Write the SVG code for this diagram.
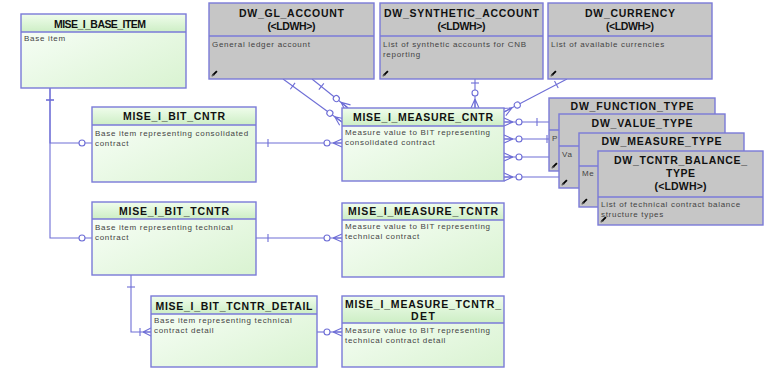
<svg xmlns="http://www.w3.org/2000/svg" xmlns:xlink="http://www.w3.org/1999/xlink" width="769" height="370" viewBox="0 0 769 370">
<style>
  .frame{fill:none;stroke:#7a7ad8;stroke-width:1.4}
  .sep{stroke:#7a7ad8;stroke-width:1.4}
  .mbody{fill:url(#gBody)}
  .mhead{fill:url(#gHead)}
  .dw{fill:#c6c6c6}
  .title{font-family:"Liberation Sans",Arial,sans-serif;font-size:10.5px;font-weight:bold;fill:#111;text-anchor:middle}
  .txt{font-family:"Liberation Sans",Arial,sans-serif;font-size:8px;letter-spacing:0.7px;fill:#444}
  .conn{fill:none;stroke:#6e6ed6;stroke-width:1.1}
  .mk{fill:none;stroke:#6e6ed6;stroke-width:1.1}
  .mkc{fill:#fff;stroke:#6e6ed6;stroke-width:1.1}
</style>
<defs>
  <linearGradient id="gHead" x1="0" y1="0" x2="0" y2="1">
    <stop offset="0" stop-color="#f0fdec"/>
    <stop offset="1" stop-color="#cdeec5"/>
  </linearGradient>
  <linearGradient id="gBody" x1="0" y1="0" x2="1" y2="1">
    <stop offset="0" stop-color="#fafffa"/>
    <stop offset="1" stop-color="#d9f3d1"/>
  </linearGradient>
  <symbol id="pencil" viewBox="0 0 8 8">
    <path d="M1,7 L2,4.5 L6,0.5 L7.5,2 L3.5,6 Z" fill="#000"/>
    <path d="M1,7 L2,4.5 L3.5,6 Z" fill="#fff" stroke="#000" stroke-width="0.6"/>
  </symbol>
  <marker id="mTick" viewBox="0 -6 16 12" refX="0" refY="0" markerWidth="16" markerHeight="12" orient="auto" markerUnits="userSpaceOnUse">
    <path class="mk" d="M12,-4 L12,4"/>
  </marker>
  <marker id="mTick4" viewBox="0 -6 8 12" refX="0" refY="0" markerWidth="8" markerHeight="12" orient="auto" markerUnits="userSpaceOnUse">
    <path class="mk" d="M4,-4 L4,4"/>
  </marker>
  <marker id="mCircle" viewBox="-16 -6 17 12" refX="0" refY="0" markerWidth="17" markerHeight="12" orient="auto" markerUnits="userSpaceOnUse">
    <circle class="mkc" cx="-10" cy="0" r="3"/>
  </marker>
  <marker id="mCrowO" viewBox="-20 -6 21 12" refX="0" refY="0" markerWidth="21" markerHeight="12" orient="auto" markerUnits="userSpaceOnUse">
    <path class="mk" d="M-9,0 L0,-4 M-9,0 L0,0 M-9,0 L0,4"/>
    <circle class="mkc" cx="-15" cy="0" r="3"/>
  </marker>
  <marker id="mCrowBar" viewBox="-16 -6 17 12" refX="0" refY="0" markerWidth="17" markerHeight="12" orient="auto" markerUnits="userSpaceOnUse">
    <path class="mk" d="M-11,-4 L-11,4 M-8,0 L0,-4 M-8,0 L0,0 M-8,0 L0,4"/>
  </marker>
</defs>
<rect x="0" y="0" width="769" height="370" fill="#fff"/>

<g id="connectors">
  <path class="conn" d="M50,88 V143 H92" marker-start="url(#mTick)" marker-end="url(#mCircle)"/>
  <path class="conn" d="M50,88 V238 H92" marker-start="url(#mTick)" marker-end="url(#mCircle)"/>
  <path class="conn" d="M256,143 H342" marker-start="url(#mTick)" marker-end="url(#mCrowO)"/>
  <path class="conn" d="M256,238 H342" marker-start="url(#mTick)" marker-end="url(#mCrowO)"/>
  <path class="conn" d="M131,275 V332 H151" marker-start="url(#mTick)" marker-end="url(#mCrowBar)"/>
  <path class="conn" d="M317,332 H342" marker-end="url(#mCrowO)"/>
  <path class="conn" d="M283,79 L342,122" marker-start="url(#mTick)" marker-end="url(#mCrowO)"/>
  <path class="conn" d="M312,79 L348,108" marker-start="url(#mTick)" marker-end="url(#mCrowO)"/>
  <path class="conn" d="M475,79 V108" marker-start="url(#mTick4)" marker-end="url(#mCrowO)"/>
  <path class="conn" d="M567,79 L504,112" marker-start="url(#mTick)" marker-end="url(#mCrowO)"/>
  <path class="conn" d="M549,122 H504" marker-start="url(#mTick)" marker-end="url(#mCrowO)"/>
  <path class="conn" d="M559,139 H504" marker-start="url(#mTick)" marker-end="url(#mCrowO)"/>
  <path class="conn" d="M579,157 H504" marker-start="url(#mTick)" marker-end="url(#mCrowO)"/>
  <path class="conn" d="M598,177 H504" marker-start="url(#mTick)" marker-end="url(#mCrowO)"/>
</g>

<g id="MISE_I_BASE_ITEM">
  <rect class="mbody" x="21" y="14" width="165" height="74"/>
  <rect class="mhead" x="21" y="14" width="165" height="18"/>
  <line class="sep" x1="21" y1="32" x2="186" y2="32"/>
  <rect class="frame" x="21" y="14" width="165" height="74"/>
  <text class="title" x="100" y="28" textLength="92">MISE_I_BASE_ITEM</text>
  <text class="txt" x="24" y="41">Base item</text>
</g>

<g id="DW_GL_ACCOUNT">
  <rect class="dw" x="209" y="3" width="165" height="76"/>
  <line class="sep" x1="209" y1="36" x2="374" y2="36"/>
  <rect class="frame" x="209" y="3" width="165" height="76"/>
  <text class="title" x="291.5" y="17" textLength="105">DW_GL_ACCOUNT</text>
  <text class="title" x="291.5" y="30" textLength="48">(&lt;LDWH&gt;)</text>
  <text class="txt" x="212" y="47">General ledger account</text>
  <use href="#pencil" x="211" y="70" width="7" height="7"/>
</g>

<g id="DW_SYNTHETIC_ACCOUNT">
  <rect class="dw" x="380" y="3" width="163" height="76"/>
  <line class="sep" x1="380" y1="36" x2="543" y2="36"/>
  <rect class="frame" x="380" y="3" width="163" height="76"/>
  <text class="title" x="461.5" y="17" textLength="155">DW_SYNTHETIC_ACCOUNT</text>
  <text class="title" x="461.5" y="30" textLength="48">(&lt;LDWH&gt;)</text>
  <text class="txt" x="383" y="47">List of synthetic accounts for CNB</text>
  <text class="txt" x="383" y="57">reporting</text>
  <use href="#pencil" x="382" y="70" width="7" height="7"/>
</g>

<g id="DW_CURRENCY">
  <rect class="dw" x="548" y="3" width="164" height="76"/>
  <line class="sep" x1="548" y1="36" x2="712" y2="36"/>
  <rect class="frame" x="548" y="3" width="164" height="76"/>
  <text class="title" x="630" y="17" textLength="90">DW_CURRENCY</text>
  <text class="title" x="630" y="30" textLength="48">(&lt;LDWH&gt;)</text>
  <text class="txt" x="551" y="47">List of available currencies</text>
  <use href="#pencil" x="550" y="70" width="7" height="7"/>
</g>

<g id="MISE_I_BIT_CNTR">
  <rect class="mbody" x="92" y="107" width="164" height="75"/>
  <rect class="mhead" x="92" y="107" width="164" height="18"/>
  <line class="sep" x1="92" y1="125" x2="256" y2="125"/>
  <rect class="frame" x="92" y="107" width="164" height="75"/>
  <text class="title" x="174" y="120" textLength="102">MISE_I_BIT_CNTR</text>
  <text class="txt" x="95" y="136">Base item representing consolidated</text>
  <text class="txt" x="95" y="146">contract</text>
</g>

<g id="MISE_I_MEASURE_CNTR">
  <rect class="mbody" x="342" y="108" width="162" height="73"/>
  <rect class="mhead" x="342" y="108" width="162" height="18"/>
  <line class="sep" x1="342" y1="126" x2="504" y2="126"/>
  <rect class="frame" x="342" y="108" width="162" height="73"/>
  <text class="title" x="423" y="121" textLength="140">MISE_I_MEASURE_CNTR</text>
  <text class="txt" x="345" y="135">Measure value to BIT representing</text>
  <text class="txt" x="345" y="145">consolidated contract</text>
</g>

<g id="MISE_I_BIT_TCNTR">
  <rect class="mbody" x="92" y="202" width="164" height="73"/>
  <rect class="mhead" x="92" y="202" width="164" height="17"/>
  <line class="sep" x1="92" y1="219" x2="256" y2="219"/>
  <rect class="frame" x="92" y="202" width="164" height="73"/>
  <text class="title" x="174" y="215" textLength="110">MISE_I_BIT_TCNTR</text>
  <text class="txt" x="95" y="230">Base item representing technical</text>
  <text class="txt" x="95" y="240">contract</text>
</g>

<g id="MISE_I_MEASURE_TCNTR">
  <rect class="mbody" x="342" y="203" width="162" height="74"/>
  <rect class="mhead" x="342" y="203" width="162" height="17"/>
  <line class="sep" x1="342" y1="220" x2="504" y2="220"/>
  <rect class="frame" x="342" y="203" width="162" height="74"/>
  <text class="title" x="423" y="215" textLength="150">MISE_I_MEASURE_TCNTR</text>
  <text class="txt" x="345" y="229">Measure value to BIT representing</text>
  <text class="txt" x="345" y="239">technical contract</text>
</g>

<g id="MISE_I_BIT_TCNTR_DETAIL">
  <rect class="mbody" x="151" y="296" width="166" height="71"/>
  <rect class="mhead" x="151" y="296" width="166" height="18"/>
  <line class="sep" x1="151" y1="314" x2="317" y2="314"/>
  <rect class="frame" x="151" y="296" width="166" height="71"/>
  <text class="title" x="234" y="310" textLength="157">MISE_I_BIT_TCNTR_DETAIL</text>
  <text class="txt" x="154" y="323">Base item representing technical</text>
  <text class="txt" x="154" y="333">contract detail</text>
</g>

<g id="MISE_I_MEASURE_TCNTR_DET">
  <rect class="mbody" x="342" y="296" width="162" height="71"/>
  <rect class="mhead" x="342" y="296" width="162" height="27"/>
  <line class="sep" x1="342" y1="323" x2="504" y2="323"/>
  <rect class="frame" x="342" y="296" width="162" height="71"/>
  <text class="title" x="423" y="308" textLength="156">MISE_I_MEASURE_TCNTR_</text>
  <text class="title" x="423" y="320" textLength="24">DET</text>
  <text class="txt" x="345" y="333">Measure value to BIT representing</text>
  <text class="txt" x="345" y="343">technical contract detail</text>
</g>

<g id="DW_FUNCTION_TYPE">
  <rect class="dw" x="549" y="98" width="166" height="73"/>
  <line class="sep" x1="549" y1="130" x2="715" y2="130"/>
  <rect class="frame" x="549" y="98" width="166" height="73"/>
  <text class="title" x="632" y="110" textLength="123">DW_FUNCTION_TYPE</text>
  <text class="txt" x="552" y="141">P</text>
  <use href="#pencil" x="551" y="162" width="7" height="7"/>
</g>

<g id="DW_VALUE_TYPE">
  <rect class="dw" x="559" y="114" width="166" height="74"/>
  <line class="sep" x1="559" y1="146" x2="725" y2="146"/>
  <rect class="frame" x="559" y="114" width="166" height="74"/>
  <text class="title" x="642" y="127" textLength="101">DW_VALUE_TYPE</text>
  <text class="txt" x="562" y="157">Va</text>
  <use href="#pencil" x="561" y="179" width="7" height="7"/>
</g>

<g id="DW_MEASURE_TYPE">
  <rect class="dw" x="579" y="133" width="165" height="74"/>
  <line class="sep" x1="579" y1="166" x2="744" y2="166"/>
  <rect class="frame" x="579" y="133" width="165" height="74"/>
  <text class="title" x="661.5" y="145" textLength="120">DW_MEASURE_TYPE</text>
  <text class="txt" x="582" y="176">Me</text>
  <use href="#pencil" x="581" y="198" width="7" height="7"/>
</g>

<g id="DW_TCNTR_BALANCE_TYPE">
  <rect class="dw" x="598" y="151" width="165" height="74"/>
  <line class="sep" x1="598" y1="197" x2="763" y2="197"/>
  <rect class="frame" x="598" y="151" width="165" height="74"/>
  <text class="title" x="680.5" y="164" textLength="133">DW_TCNTR_BALANCE_</text>
  <text class="title" x="680.5" y="177" textLength="29">TYPE</text>
  <text class="title" x="680.5" y="190" textLength="52">(&lt;LDWH&gt;)</text>
  <text class="txt" x="601" y="207">List of technical contract balance</text>
  <text class="txt" x="601" y="217">structure types</text>
  <use href="#pencil" x="600" y="216" width="7" height="7"/>
</g>
</svg>
